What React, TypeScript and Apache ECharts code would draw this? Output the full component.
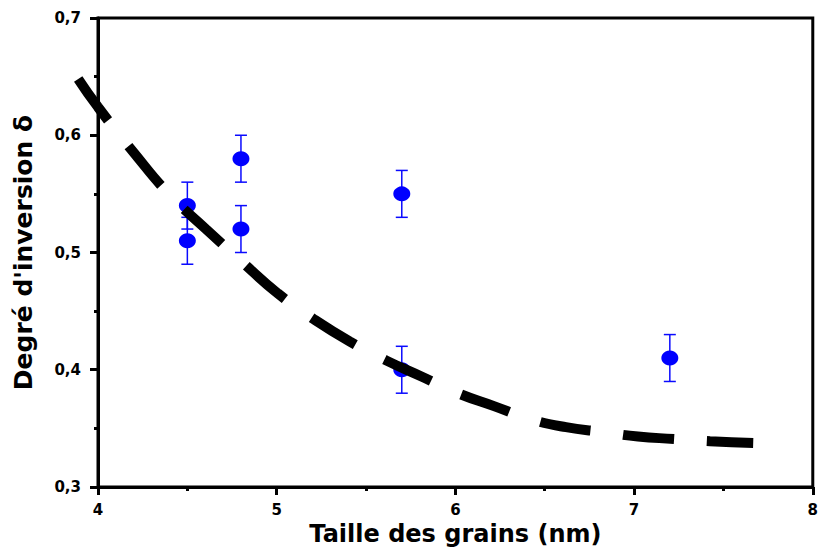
import React, { useEffect, useRef } from "react";
import * as echarts from "echarts";

const grainSize = [4.5, 4.5, 4.8, 4.8, 5.7, 5.7, 7.2];
const inversion = [0.54, 0.51, 0.58, 0.52, 0.55, 0.4, 0.41];
const inversionErr = [0.02, 0.02, 0.02, 0.02, 0.02, 0.02, 0.02];

const fitX = [3.89, 4.0, 4.2, 4.4, 4.6, 4.8, 5.0, 5.2, 5.4, 5.6, 5.8, 6.0, 6.2, 6.4, 6.6, 6.8, 7.0, 7.2, 7.4, 7.64];
const fitY = [0.648, 0.624, 0.585, 0.549, 0.52, 0.492, 0.465, 0.443, 0.424, 0.408, 0.394, 0.38, 0.369, 0.358, 0.351, 0.347, 0.343, 0.341, 0.339, 0.3375];

const xTicks = [4, 5, 6, 7, 8];
const yTicks = [0.3, 0.4, 0.5, 0.6, 0.7];

const FONT = "DejaVu Sans";

export default function App() {
  const ref = useRef<HTMLDivElement>(null);
  useEffect(() => {
    if (!ref.current) return;
    const chart = echarts.init(ref.current, null, { renderer: "svg" });
    const points = grainSize.map((x, i) => [x, inversion[i]]);
    const bars = grainSize.map((x, i) => [x, inversion[i] - inversionErr[i], inversion[i] + inversionErr[i]]);
    const fit = fitX.map((x, i) => [x, fitY[i]]);
    const xMin = xTicks[0];
    const xMax = xTicks[xTicks.length - 1];
    const yMin = yTicks[0];
    const yMax = yTicks[yTicks.length - 1];
    // second (hidden) grid with the same scale, extended 0.2 to the left so the fit is not clipped
    const pxPerUnit = (821 - 98 - 3) / (xMax - xMin);
    chart.setOption({
      animation: false,
      backgroundColor: "#fff",
      grid: [
        {
          left: 98,
          right: 3,
          top: 18,
          bottom: 69,
          show: true,
          borderColor: "#000",
          borderWidth: 3,
          backgroundColor: "transparent",
        },
        { left: 98 - pxPerUnit * 0.2, right: 3, top: 18, bottom: 69, show: false },
      ],
      xAxis: [
        {
          type: "value",
          gridIndex: 0,
          min: xMin,
          max: xMax,
          interval: 1,
          name: "Taille des grains (nm)",
          nameLocation: "middle",
          nameGap: 30,
          nameTextStyle: { fontFamily: FONT, fontWeight: "bold", fontSize: 24, color: "#000" },
          axisLine: { show: true, lineStyle: { color: "#000", width: 3 } },
          axisTick: { show: true, inside: false, length: 8, lineStyle: { color: "#000", width: 3 } },
          minorTick: { show: true, splitNumber: 2, length: 4, lineStyle: { color: "#000", width: 3 } },
          splitLine: { show: false },
          axisLabel: { fontFamily: FONT, fontWeight: "bold", fontSize: 15, color: "#000", margin: 15 },
        },
        { type: "value", gridIndex: 1, min: xMin - 0.2, max: xMax, show: false },
      ],
      yAxis: [
        {
          type: "value",
          gridIndex: 0,
          min: yMin,
          max: yMax,
          interval: 0.1,
          name: "Degré d'inversion δ",
          nameLocation: "middle",
          nameGap: 62,
          nameTextStyle: { fontFamily: FONT, fontWeight: "bold", fontSize: 25, color: "#000" },
          axisLine: { show: true, lineStyle: { color: "#000", width: 3 } },
          axisTick: { show: true, inside: false, length: 8, lineStyle: { color: "#000", width: 3 } },
          minorTick: { show: true, splitNumber: 2, length: 4, lineStyle: { color: "#000", width: 3 } },
          splitLine: { show: false },
          axisLabel: {
            fontFamily: FONT,
            fontWeight: "bold",
            fontSize: 15,
            color: "#000",
            margin: 17,
            formatter: (v: number) => v.toFixed(1).replace(".", ","),
          },
        },
        { type: "value", gridIndex: 1, min: yMin, max: yMax, show: false },
      ],
      series: [
        {
          type: "custom",
          xAxisIndex: 0,
          yAxisIndex: 0,
          z: 2,
          data: bars,
          renderItem: (params: any, api: any) => {
            const x = api.value(0);
            const lo = api.coord([x, api.value(1)]);
            const hi = api.coord([x, api.value(2)]);
            const hw = 6;
            const style = { stroke: "#0a0aff", lineWidth: 1.5 };
            return {
              type: "group",
              children: [
                { type: "line", shape: { x1: lo[0], y1: lo[1], x2: hi[0], y2: hi[1] }, style },
                { type: "line", shape: { x1: lo[0] - hw, y1: lo[1], x2: lo[0] + hw, y2: lo[1] }, style },
                { type: "line", shape: { x1: hi[0] - hw, y1: hi[1], x2: hi[0] + hw, y2: hi[1] }, style },
              ],
            };
          },
        },
        {
          type: "scatter",
          xAxisIndex: 0,
          yAxisIndex: 0,
          z: 3,
          data: points,
          symbol: "circle",
          symbolSize: [17, 15],
          itemStyle: { color: "#0000ff", opacity: 1 },
        },
        {
          type: "line",
          xAxisIndex: 1,
          yAxisIndex: 1,
          z: 5,
          data: fit,
          smooth: true,
          showSymbol: false,
          symbol: "none",
          clip: false,
          lineStyle: { color: "#000", width: 10, type: [51, 33], cap: "butt" },
        },
      ],
    });
    return () => chart.dispose();
  }, []);
  return (
    <div
      ref={ref}
      style={{ position: "fixed", left: 0, top: 0, width: 821, height: 556, background: "#fff" }}
    />
  );
}
